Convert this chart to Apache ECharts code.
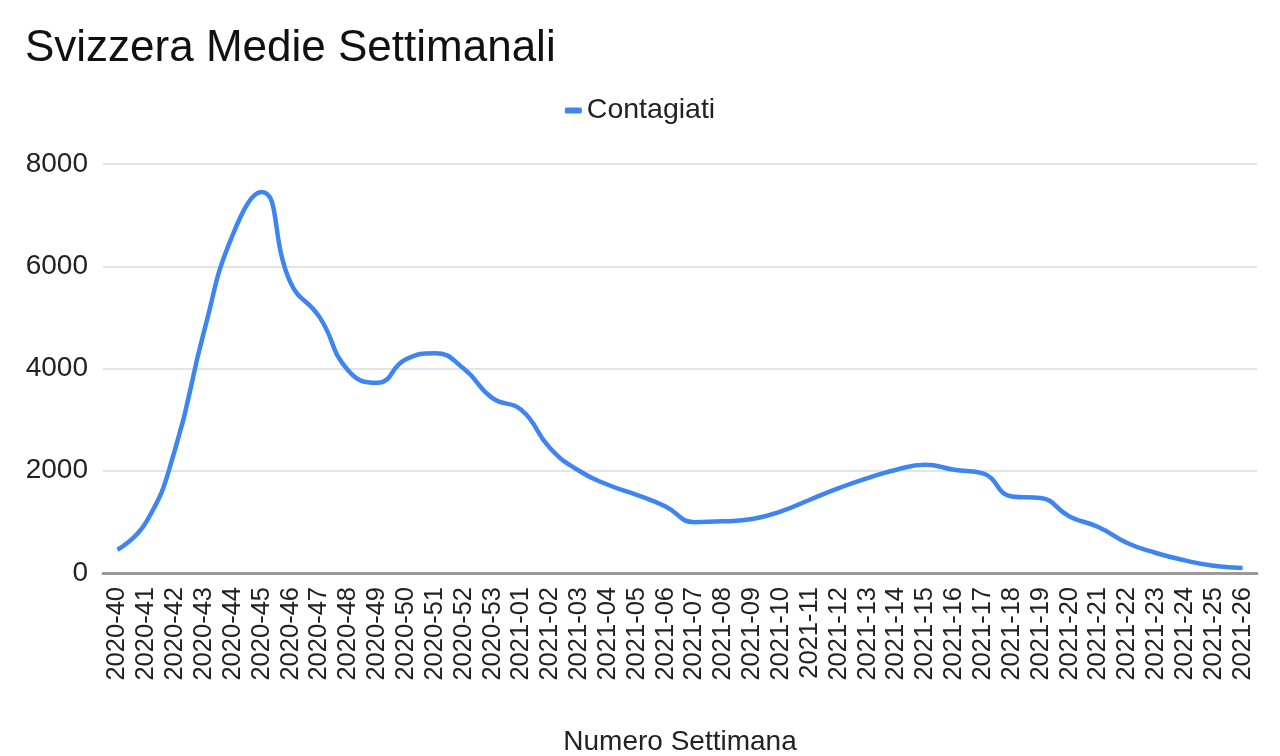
<!DOCTYPE html>
<html>
<head>
<meta charset="utf-8">
<script src="https://cdn.jsdelivr.net/npm/echarts@6/dist/echarts.min.js"></script>
<style>
html,body{margin:0;padding:0;background:#fff;}
#chart{width:1280px;height:756px;}
</style>
</head>
<body>
<div id="chart"></div>
<script>
const titleText = "Svizzera Medie Settimanali";
const seriesName = "Contagiati";
const xAxisName = "Numero Settimana";
const weeks = [
  "2020-40","2020-41","2020-42","2020-43","2020-44","2020-45","2020-46","2020-47",
  "2020-48","2020-49","2020-50","2020-51","2020-52","2020-53",
  "2021-01","2021-02","2021-03","2021-04","2021-05","2021-06","2021-07","2021-08",
  "2021-09","2021-10","2021-11","2021-12","2021-13","2021-14","2021-15","2021-16",
  "2021-17","2021-18","2021-19","2021-20","2021-21","2021-22","2021-23","2021-24",
  "2021-25","2021-26"
];
const contagiati = [
  455, 1000, 2420, 4720, 6620, 7450, 5680, 5010,
  3960, 3720, 4180, 4300, 4000, 3420,
  3190, 2440, 2000, 1726, 1530, 1302, 995, 1010,
  1055, 1205, 1433, 1660, 1856, 2020, 2117, 2020,
  1947, 1498, 1465, 1107, 899, 586, 391, 246,
  143, 98
];
const yTicks = { min: 0, max: 8000, interval: 2000 };

const FONT = 'Liberation Sans, Arial, sans-serif';
const chart = echarts.init(document.getElementById('chart'), null, {renderer: 'canvas'});
chart.setOption({
  animation: false,
  backgroundColor: '#ffffff',
  textStyle: { fontFamily: FONT },
  title: {
    text: titleText,
    left: 20,
    top: 22,
    textStyle: { fontSize: 44, fontWeight: 'normal', color: '#111', fontFamily: FONT }
  },
  legend: {
    data: [seriesName],
    left: 'center',
    top: 91,
    icon: 'roundRect',
    itemWidth: 17,
    itemHeight: 6,
    itemGap: 10,
    textStyle: { fontSize: 28.5, color: '#222', fontFamily: FONT }
  },
  grid: { left: 103, right: 23, top: 164, bottom: 183, containLabel: false, outerBoundsMode: 'none' },
  xAxis: {
    type: 'category',
    data: weeks,
    boundaryGap: true,
    name: xAxisName,
    nameLocation: 'middle',
    nameGap: 155,
    nameTextStyle: { fontSize: 28, color: '#222', fontFamily: FONT },
    axisLine: { show: true, lineStyle: { color: '#9a9a9a', width: 3 } },
    axisTick: { show: false },
    axisLabel: { interval: 0, rotate: 90, margin: 14, fontSize: 25.5, color: '#222', fontFamily: FONT },
    splitLine: { show: false }
  },
  yAxis: {
    type: 'value',
    min: yTicks.min,
    max: yTicks.max,
    interval: yTicks.interval,
    axisLine: { show: false },
    axisTick: { show: false },
    axisLabel: { margin: 15, fontSize: 28, color: '#222', fontFamily: FONT, formatter: function (v) { return String(v); } },
    splitLine: { lineStyle: { color: '#e4e4e4', width: 2 } }
  },
  series: [{
    name: seriesName,
    type: 'line',
    data: contagiati,
    smooth: 0.5,
    showSymbol: false,
    symbol: 'none',
    lineStyle: { color: '#3f85f2', width: 4.5 },
    itemStyle: { color: '#3f85f2' }
  }]
});
</script>
</body>
</html>
